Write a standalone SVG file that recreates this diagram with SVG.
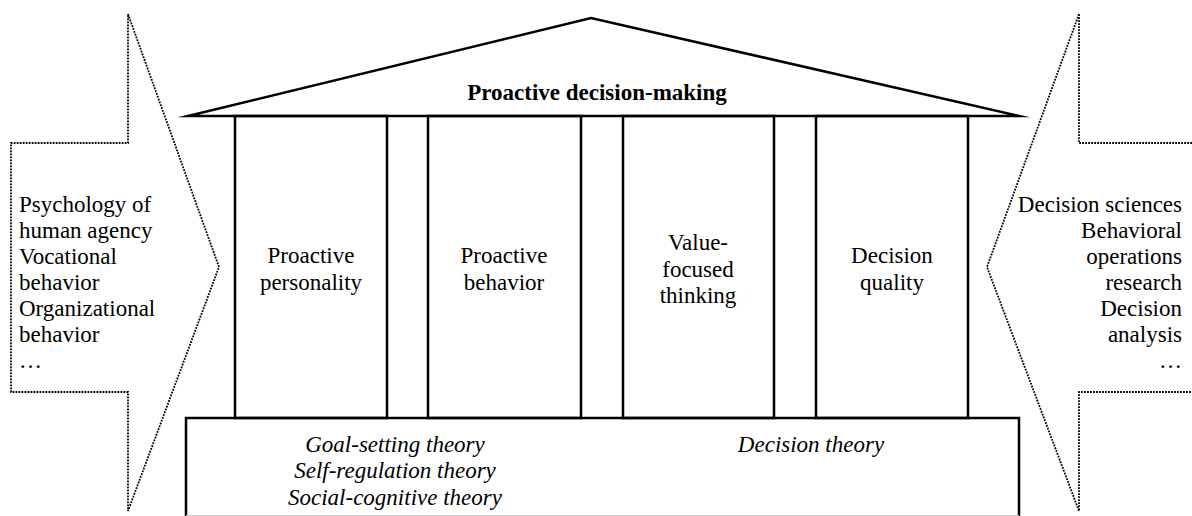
<svg xmlns="http://www.w3.org/2000/svg" width="1192" height="516" viewBox="0 0 1192 516">
  <style>
    .txt { font-family: "Liberation Serif", "Times New Roman", serif; font-size: 23px; fill: #000; }
    .mid { text-anchor: middle; }
    .end { text-anchor: end; }
    .bold { font-weight: bold; }
    .ital { font-style: italic; }
    .solid { fill: none; stroke: #000; stroke-width: 2.5; stroke-linejoin: miter; stroke-miterlimit: 12; }
    .dotted { fill: none; stroke: #000; stroke-width: 1.8; stroke-dasharray: 1.8 1.2; }
  </style>

  <rect x="0" y="0" width="1192" height="516" fill="#fff"/>

  <!-- Source disciplines flowing in from the left -->
  <g id="left-inflow">
    <polygon class="dotted" points="128,14 219,267 128,511 128,392 11,392 11,143 128,143"/>
    <text class="txt" x="19" y="212">Psychology of</text>
    <text class="txt" x="19" y="238">human agency</text>
    <text class="txt" x="19" y="264">Vocational</text>
    <text class="txt" x="19" y="290">behavior</text>
    <text class="txt" x="19" y="316">Organizational</text>
    <text class="txt" x="19" y="342">behavior</text>
    <text class="txt" x="19" y="368">…</text>
  </g>

  <!-- Source disciplines flowing in from the right -->
  <g id="right-inflow">
    <polygon class="dotted" points="1079,14 987,267 1079,511 1079,392 1198,392 1198,143 1079,143"/>
    <text class="txt end" x="1182" y="212">Decision sciences</text>
    <text class="txt end" x="1182" y="238">Behavioral</text>
    <text class="txt end" x="1182" y="264">operations</text>
    <text class="txt end" x="1182" y="290">research</text>
    <text class="txt end" x="1182" y="316">Decision</text>
    <text class="txt end" x="1182" y="342">analysis</text>
    <text class="txt end" x="1182" y="368">…</text>
  </g>

  <!-- Roof -->
  <g id="roof">
    <polygon class="solid" points="188,116 591,18 1019,116"/>
    <text class="txt mid bold" x="597" y="100">Proactive decision-making</text>
  </g>

  <!-- Pillars -->
  <g id="pillar-personality">
    <rect class="solid" x="235" y="116" width="152" height="302"/>
    <text class="txt mid" x="311" y="263">Proactive</text>
    <text class="txt mid" x="311" y="290">personality</text>
  </g>
  <g id="pillar-behavior">
    <rect class="solid" x="428" y="116" width="153" height="302"/>
    <text class="txt mid" x="504" y="263">Proactive</text>
    <text class="txt mid" x="504" y="290">behavior</text>
  </g>
  <g id="pillar-vft">
    <rect class="solid" x="623" y="116" width="151" height="302"/>
    <text class="txt mid" x="698" y="250">Value-</text>
    <text class="txt mid" x="698" y="277">focused</text>
    <text class="txt mid" x="698" y="303">thinking</text>
  </g>
  <g id="pillar-quality">
    <rect class="solid" x="816" y="116" width="152" height="302"/>
    <text class="txt mid" x="892" y="263">Decision</text>
    <text class="txt mid" x="892" y="290">quality</text>
  </g>

  <!-- Foundation -->
  <g id="foundation">
    <path class="solid" d="M186,518 V418 H1019 V518"/>
    <line x1="186" y1="515.5" x2="1019" y2="515.5" stroke="#c8c8c8" stroke-width="1"/>
    <text class="txt mid ital" x="395" y="452">Goal-setting theory</text>
    <text class="txt mid ital" x="395" y="478">Self-regulation theory</text>
    <text class="txt mid ital" x="395" y="505">Social-cognitive theory</text>
    <text class="txt mid ital" x="811" y="452">Decision theory</text>
  </g>

  <g id="connectors"></g>
</svg>
